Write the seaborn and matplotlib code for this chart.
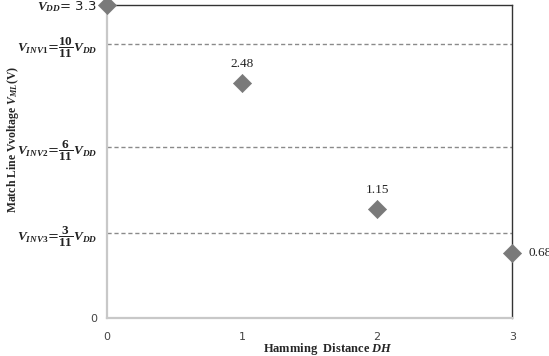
import matplotlib
matplotlib.use("Agg")
import matplotlib.pyplot as plt
import seaborn as sns
import pandas as pd

# Data
hamming = [0, 1, 2, 3]
voltage = [3.3, 2.48, 1.15, 0.68]
point_labels = ["", "2.48", "1.15", "0.68"]
ref_levels = [2.89, 1.80, 0.90]
ref_labels = [r"$V_{INV1}$=$\dfrac{10}{11}V_{DD}$",
              r"$V_{INV2}$=$\dfrac{6}{11}V_{DD}$",
              r"$V_{INV3}$=$\dfrac{3}{11}V_{DD}$"]
x_ticks = [0, 1, 2, 3]

sns.set_theme(style="white")
plt.rcParams["mathtext.fontset"] = "custom"
plt.rcParams["mathtext.rm"] = "Liberation Serif:bold"
plt.rcParams["mathtext.it"] = "Liberation Serif:italic:bold"
plt.rcParams["mathtext.bf"] = "Liberation Serif:bold"

df = pd.DataFrame({"DH": hamming, "V": voltage})

fig = plt.figure(figsize=(5.49, 3.56), dpi=100)
ax = fig.add_axes([0.195, 0.107, 0.738, 0.879])

for lv in ref_levels:
    ax.plot([0, 3], [lv, lv], linestyle=(0, (3, 2)), color="#8a8a8a", linewidth=1.0, zorder=1)

sns.scatterplot(data=df, x="DH", y="V", marker="D", s=85, color="#7a7a7a",
                edgecolor="#7a7a7a", linewidth=0.5, ax=ax, zorder=5, clip_on=False)

ax.set_xlim(0, 3)
ax.set_ylim(0, 3.3)

ax.set_xticks(x_ticks)
ax.set_xticklabels([str(t) for t in x_ticks], fontsize=8, color="#444444", family="DejaVu Sans")
ax.tick_params(axis="x", length=2, color="#bbbbbb", pad=8)
ax.tick_params(axis="y", length=0, pad=7)

yt = [0] + ref_levels + [3.3]
yl = ["0"] + ref_labels + [r"$V_{DD}$= 3.3"]
ax.set_yticks(yt)
ax.set_yticklabels(yl, fontsize=9.5, color="#222222")
ax.get_yticklabels()[0].set_fontsize(8)
ax.get_yticklabels()[0].set_color("#444444")

for sp in ["left", "bottom"]:
    ax.spines[sp].set_color("#c8c8c8")
    ax.spines[sp].set_linewidth(1.6)
for sp in ["top", "right"]:
    ax.spines[sp].set_color("#333333")
    ax.spines[sp].set_linewidth(1.0)

# Data labels
for x, y, t in zip(hamming, voltage, point_labels):
    if not t:
        continue
    if x == 3:
        ax.annotate(t, (x, y), xytext=(12, 0), textcoords="offset points",
                    ha="left", va="center", fontsize=9.5, family="Liberation Serif",
                    color="#222222", annotation_clip=False)
    else:
        ax.annotate(t, (x, y), xytext=(0, 9), textcoords="offset points",
                    ha="center", va="bottom", fontsize=9.5, family="Liberation Serif",
                    color="#222222")

ax.set_xlabel("")
ax.set_ylabel("")
fig.text(0.598, 0.02, r"Hamming  Distance $DH$", fontsize=9, family="Liberation Serif",
         fontweight="bold", ha="center", va="center")
fig.text(0.024, 0.607, r"Match Line Vvoltage $V_{ML}$(V)", fontsize=8.5, family="Liberation Serif",
         fontweight="bold", ha="center", va="center", rotation=90)

fig.savefig("out.png", dpi=100)
